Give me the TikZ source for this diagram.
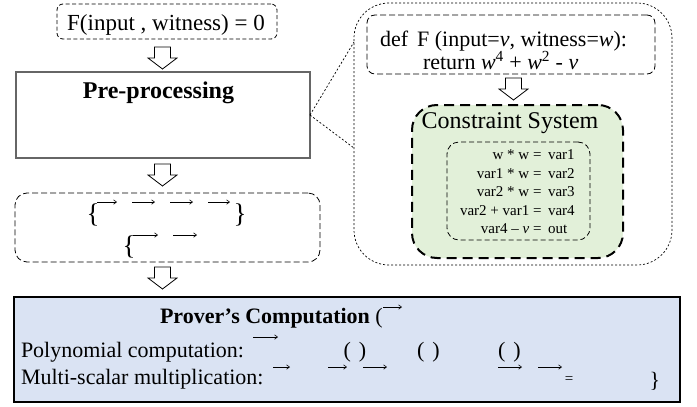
\documentclass[tikz,border=0pt]{standalone}
\usepackage{fontspec}
\setmainfont{Liberation Serif}
\usetikzlibrary{arrows.meta}
\definecolor{csgreen}{HTML}{E2F0D9}
\definecolor{pcblue}{HTML}{DAE3F3}
\definecolor{pregray}{HTML}{666666}
\begin{document}
\begin{tikzpicture}[x=1pt,y=-1pt,
  every node/.style={inner sep=0pt, outer sep=0pt},
  bigtxt/.style={font=\fontsize{22}{26}\selectfont},
  bracetxt/.style={font=\fontsize{27}{30}\selectfont},
  smalltxt/.style={font=\fontsize{15}{18.5}\selectfont},
  thindash/.style={draw, line width=0.8pt, dash pattern=on 4pt off 2.5pt},
  meddash/.style={draw, line width=0.8pt, dash pattern=on 6pt off 3pt},
  dotbox/.style={draw, line width=0.7pt, dash pattern=on 2pt off 2pt},
  garrow/.style={line width=0.6pt, -{Straight Barb[length=3pt,width=4.5pt]}},
  harrow/.pic={\draw[line width=0.8pt, fill=white, line join=miter]
     (-8,0) -- (8,0) -- (8,11) -- (14.5,11) -- (0,22) -- (-14.5,11) -- (-8,11) -- cycle;}
]
\useasboundingbox (0,0) rectangle (697,407);

% ---------- left column ----------
\node[thindash, rounded corners=6pt, minimum width=220pt, minimum height=35pt] (top) at (167,21.5) {};
\node[font=\fontsize{23}{27}\selectfont, anchor=base] (toptxt) at (166,30) {F(input , witness) = 0};

\pic at (162.5,47) {harrow};

\node[draw=pregray, line width=1.2pt, minimum width=294pt, minimum height=86pt] (pre) at (163,115) {};
\node[font=\fontsize{24}{28}\selectfont\bfseries, anchor=base] (pretxt) at (158.5,98) {Pre-processing};

\pic at (162.5,164) {harrow};

\node[meddash, rounded corners=12pt, minimum width=305pt, minimum height=69pt] (mid) at (167.5,227.5) {};
\node[bracetxt] (lb1) at (93,215) {\{};
\node[bracetxt] (rb1) at (240,215) {\}};
\node[bracetxt] (lb2) at (129,247) {\{};
\draw[garrow] (97,202) -- (117,202);
\draw[garrow] (132,202) -- (155,202);
\draw[garrow] (170,202) -- (193,202);
\draw[garrow] (208,202) -- (230,202);
\draw[garrow] (133,235) -- (158,235);
\draw[garrow] (173,235) -- (197,235);

\pic at (162.5,267) {harrow};

% ---------- bottom box ----------
\node[draw, line width=2.2pt, fill=pcblue, minimum width=666pt, minimum height=105pt] (prov) at (347,349.5) {};
\node[bigtxt, anchor=base west] (provtxt) at (160,323) {\textbf{Prover’s Computation} (};
\draw[garrow] (383,307) -- (402,307);
\node[bigtxt, anchor=base west] (poly) at (21,357) {Polynomial computation:};
\draw[garrow] (253,337) -- (278,337);
\node[bigtxt, anchor=base] (p1) at (355,357) {(\hspace{8pt})};
\node[bigtxt, anchor=base] (p2) at (428.5,357) {(\hspace{8pt})};
\node[bigtxt, anchor=base] (p3) at (509.5,357) {(\hspace{8pt})};
\node[bigtxt, anchor=base west] (msm) at (21,384) {Multi-scalar multiplication:};
\draw[garrow] (273,367) -- (290,367);
\draw[garrow] (328,367) -- (347,367);
\draw[garrow] (363,367) -- (387,367);
\draw[garrow] (498,367) -- (522,367);
\draw[garrow] (538,367) -- (562,367);
\node[smalltxt, anchor=base] (eqs) at (569,383) {=};
\node[bigtxt, anchor=base] (rb3) at (655,387) {\}};

% ---------- right detail ----------
\node[dotbox, rounded corners=35pt, minimum width=318pt, minimum height=262pt] (big) at (513,134) {};
\coordinate (bigT) at (354,42);
\coordinate (bigB) at (354,148);
\draw[dotbox] (pre.east) -- (bigT);
\draw[dotbox] (pre.east) -- (bigB);

\node[meddash, rounded corners=8pt, minimum width=288pt, minimum height=59pt] (code) at (511,44.5) {};
\node[bigtxt, anchor=base west] (code1) at (380,46) {def\hspace{9pt}F (input=\textit{v}, witness=\textit{w}):};
\node[bigtxt, anchor=base west] (code2) at (423,69) {return \textit{w}\textsuperscript{4} + \textit{w}\textsuperscript{2} - \textit{v}};

\pic at (513.5,78) {harrow};

\node[draw, fill=csgreen, line width=2pt, dash pattern=on 10pt off 6pt, rounded corners=25pt,
      minimum width=211pt, minimum height=153pt] (cs) at (517.5,181.5) {};
\node[font=\fontsize{24}{28}\selectfont, anchor=base] (cstxt) at (510,128) {Constraint System};

\node[meddash, dash pattern=on 5pt off 3pt, rounded corners=12pt, minimum width=143pt, minimum height=98pt] (inner) at (518.5,191) {};
\node[smalltxt, align=right, anchor=east] (lhs) at (541.5,192) {w * w =\\ var1 * w =\\ var2 * w =\\ var2 + var1 =\\ var4 – \textit{v}  =};
\node[smalltxt, align=left, anchor=west] (rhs) at (548,192) {var1\\ var2\\ var3\\ var4\\ out};
\end{tikzpicture}
\end{document}
